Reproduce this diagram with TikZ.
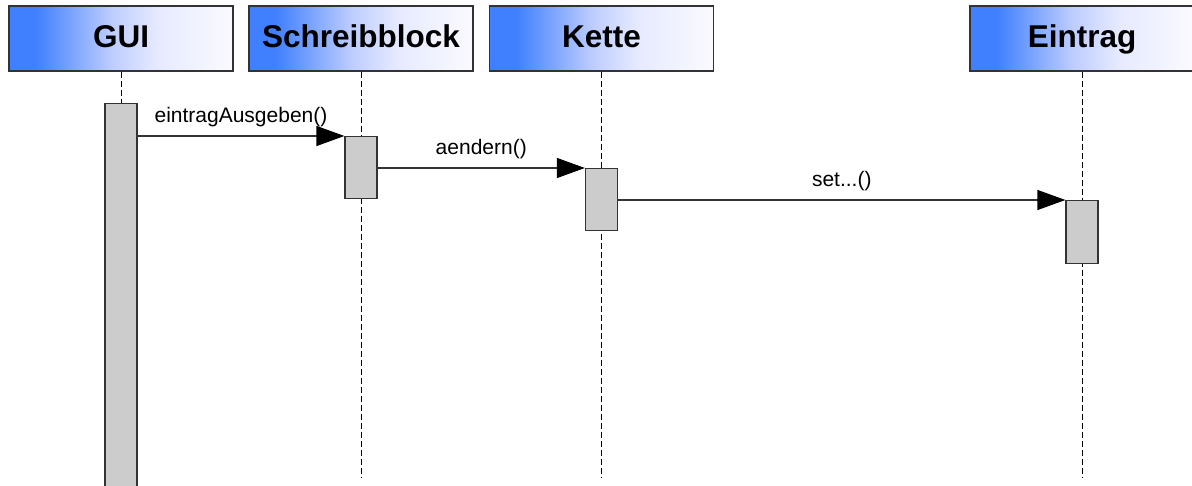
\documentclass[tikz,border=0pt]{standalone}
\usepackage{fontspec}
\setmainfont{Liberation Sans}
\usetikzlibrary{arrows.meta}
\definecolor{hdrblue}{RGB}{64,128,255}
\definecolor{hdrmid}{RGB}{190,205,255}
\definecolor{hdrpale}{RGB}{230,234,255}
\definecolor{hdrend}{RGB}{250,250,255}
\definecolor{barfill}{RGB}{204,204,204}
\definecolor{linegray}{RGB}{51,51,51}
\pgfdeclarehorizontalshading{hdrshade}{100bp}{color(0bp)=(hdrblue); color(31bp)=(hdrblue); color(48bp)=(hdrmid); color(58bp)=(hdrpale); color(75bp)=(hdrend); color(100bp)=(hdrend)}

\begin{document}
\begin{tikzpicture}[x=1pt, y=-1pt]
	\useasboundingbox (0,0) rectangle (1192,486);
	
	% HEADS
	\tikzstyle{head}=[rectangle, draw=linegray, line width=1.2pt, shading=hdrshade, minimum width=224pt, minimum height=65pt, text height=23pt, text depth=4pt, font=\fontsize{31.5}{36}\selectfont\bfseries]
	\path (121, 38.5) node[head] (gui) {GUI};
	\path (361, 38.5) node[head] (sb) {Schreibblock};
	\path (601.5, 38.5) node[head] (kette) {Kette};
	\path (1082, 38.5) node[head] (eintrag) {Eintrag};
	
	% LIFELINES
	\tikzstyle{life}=[dash pattern=on 6pt off 3pt, line width=0.9pt]
	\coordinate (guiend) at (121, 478);
	\coordinate (sbend) at (361, 478);
	\coordinate (ketteend) at (601.5, 478);
	\coordinate (eintragend) at (1082, 478);
	\draw[life] (gui.south) -- (guiend);
	\draw[life] (sb.south) -- (sbend);
	\draw[life] (kette.south) -- (ketteend);
	\draw[life] (eintrag.south) -- (eintragend);
	
	% BARS
	\tikzstyle{bar}=[rectangle, draw=linegray, line width=1.2pt, fill=barfill, minimum width=32pt, inner sep=0pt, anchor=north]
	\path (121, 103) node[bar, minimum height=390pt] (guibar) {};
	\path (361, 136) node[bar, minimum height=62pt] (sbbar) {};
	\path (601.5, 168) node[bar, minimum height=62pt] (kettebar) {};
	\path (1082, 200) node[bar, minimum height=63pt] (eintragbar) {};
	
	% MESSAGES
	\tikzstyle{msg}=[line width=1.2pt, linegray, -{Triangle[length=28pt, width=20pt, black]}]
	\tikzstyle{lbl}=[font=\fontsize{21}{25}\selectfont, text=black, anchor=base, yshift=13pt]
	\draw[msg] (guibar.east |- sbbar.north) -- (sbbar.north west) node[lbl, midway] {eintragAusgeben()};
	\draw[msg] (sbbar.east |- kettebar.north) -- (kettebar.north west) node[lbl, midway] {aendern()};
	\draw[msg] (kettebar.east |- eintragbar.north) -- (eintragbar.north west) node[lbl, midway] {set...()};
	
\end{tikzpicture}
\end{document}
